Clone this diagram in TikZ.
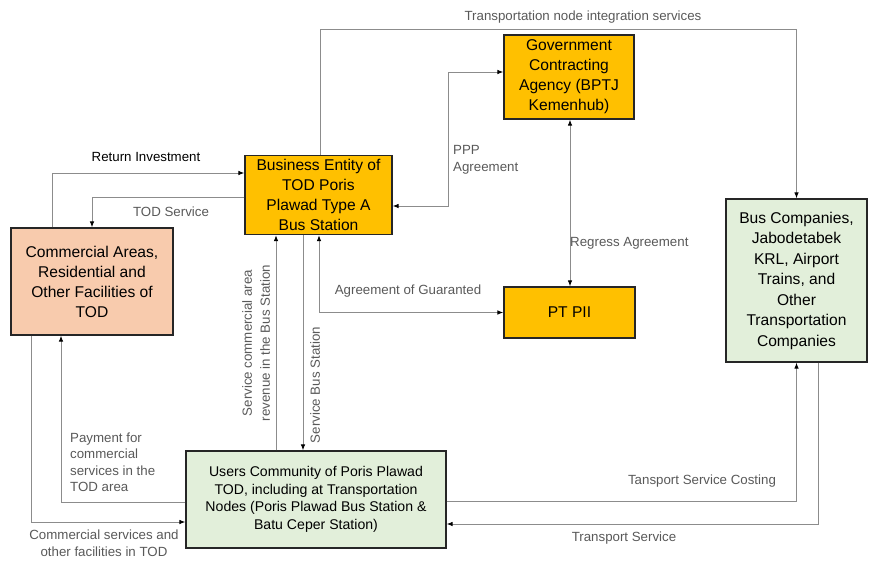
\documentclass[tikz,border=0pt]{standalone}
\usepackage{fontspec}
\setmainfont{Liberation Sans}
\usetikzlibrary{arrows.meta,positioning}
\definecolor{entityfill}{HTML}{FFC000}
\definecolor{areafill}{HTML}{F8CBAD}
\definecolor{userfill}{HTML}{E2EFDA}
\definecolor{boxline}{HTML}{262626}
\definecolor{flowgray}{HTML}{8C8C8C}
\definecolor{labelgray}{HTML}{595959}
\tikzset{
  box/.style={draw=boxline, line width=1.2pt, align=center, inner sep=0pt,
    font=\fontsize{15.6}{20}\selectfont},
  flow/.style={draw=flowgray, line width=0.9pt,
    -{Latex[length=6pt,width=4.5pt,color=black]}},
  twoway/.style={draw=flowgray, line width=0.9pt,
    {Latex[length=6pt,width=4.5pt,color=black]}-{Latex[length=6pt,width=4.5pt,color=black]}},
  lbl/.style={text=labelgray, inner sep=0pt, font=\fontsize{13.3}{16.5}\selectfont},
}
\begin{document}
\begin{tikzpicture}[x=1pt,y=-1pt]
\useasboundingbox (0,0) rectangle (875,562);
% boxes
\node[box, fill=entityfill, minimum width=147pt, minimum height=79pt] (biz) at (318.5,195)
  {Business Entity of\\TOD Poris\\Plawad Type A\\Bus Station};
\node[box, fill=entityfill, minimum width=130pt, minimum height=84pt] (gov) at (569,77)
  {Government\\Contracting\\Agency (BPTJ\\Kemenhub)};
\node[box, fill=entityfill, minimum width=131pt, minimum height=51pt] (ptpii) at (569.5,312.5)
  {PT PII};
\node[box, fill=userfill, minimum width=141pt, minimum height=163pt,
  font=\fontsize{15.6}{20.5}\selectfont] (bus) at (796.5,280.5)
  {Bus Companies,\\Jabodetabek\\KRL, Airport\\Trains, and\\Other\\Transportation\\Companies};
\node[box, fill=areafill, minimum width=162pt, minimum height=107pt] (comm) at (92,281.5)
  {Commercial Areas,\\Residential and\\Other Facilities of\\TOD};
\node[box, fill=userfill, minimum width=260pt, minimum height=97pt,
  font=\fontsize{14.1}{17.5}\selectfont] (users) at (316,499.5)
  {Users Community of Poris Plawad\\TOD, including at Transportation\\Nodes (Poris Plawad Bus Station \&\\Batu Ceper Station)};
% connectors
\draw[flow] (comm.north -| 52,0) |- (biz.west |- 0,173);
\draw[flow] (biz.west |- 0,197) -| (comm.north -| 92,0);
\draw[flow] (biz.north -| 320,0) |- (bus.north |- 0,29) -- (bus.north);
\draw[twoway] (biz.east |- 0,206) -| (448,72) -- (gov.west |- 0,72);
\draw[twoway] (gov.south -| 570,0) -- (ptpii.north -| 570,0);
\draw[twoway] (biz.south -| 319,0) |- (ptpii.west);
\draw[flow] (users.north -| 276,0) -- (biz.south -| 276,0);
\draw[flow] (biz.south -| 303,0) -- (users.north -| 303,0);
\draw[flow] (users.west |- 0,502) -| (comm.south -| 61,0);
\draw[flow] (comm.south -| 31,0) |- (users.west |- 0,522);
\draw[flow] (users.east |- 0,501) -| (bus.south);
\draw[flow] (bus.south -| 818,0) |- (users.east |- 0,524);
% labels
\node[lbl, text=black] (lreturn) at (146,157) {Return Investment};
\node[lbl] (ltod) at (171,212) {TOD Service};
\node[lbl] (lintegr) at (583,17) {Transportation node integration services};
\node[lbl, align=left, anchor=west] (lppp) at (453,160) {PPP\\Agreement};
\node[lbl, anchor=west] (lregress) at (570,243) {Regress Agreement};
\node[lbl] (lguar) at (408,291) {Agreement of Guaranted};
\node[lbl, rotate=90, align=center, font=\fontsize{13.3}{18}\selectfont] (lrevenue) at (256,343)
  {Service commercial area\\revenue in the Bus Station};
\node[lbl, rotate=90] (lservbus) at (315,385) {Service Bus Station};
\node[lbl, align=left, anchor=west] (lpay) at (70,462)
  {Payment for\\commercial\\services in the\\TOD area};
\node[lbl, align=center] (lcommserv) at (104,543)
  {Commercial services and\\other facilities in TOD};
\node[lbl] (lcosting) at (702,481) {Tansport Service Costing};
\node[lbl] (ltransp) at (624,538) {Transport Service};
\end{tikzpicture}
\end{document}
